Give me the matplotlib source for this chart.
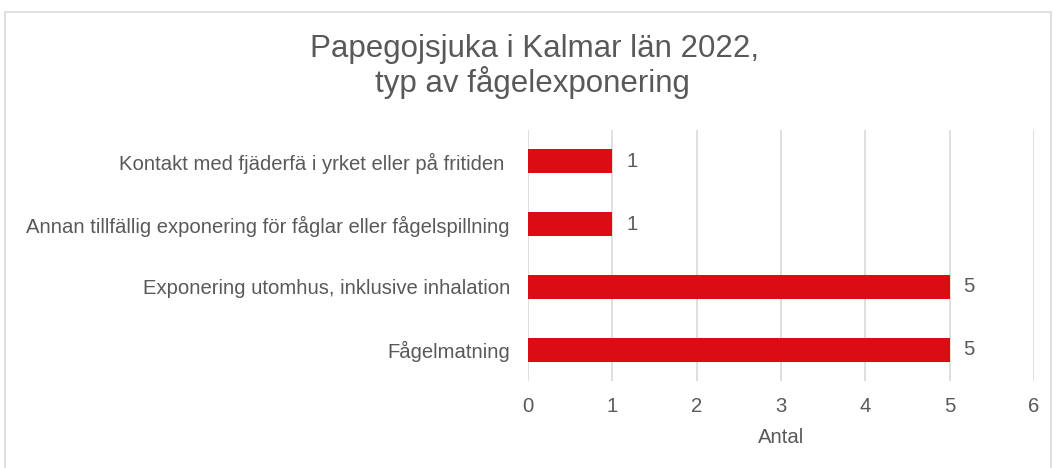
import matplotlib
matplotlib.use("Agg")
import matplotlib.pyplot as plt
from matplotlib.patches import Rectangle

plt.rcParams['font.family'] = ['Liberation Sans', 'DejaVu Sans']

categories = [
    "Kontakt med fjäderfä i yrket eller på fritiden ",
    "Annan tillfällig exponering för fåglar eller fågelspillning",
    "Exponering utomhus, inklusive inhalation",
    "Fågelmatning",
]
values = [1, 1, 5, 5]
xticks = [0, 1, 2, 3, 4, 5, 6]
title_lines = ["Papegojsjuka i Kalmar län 2022,", "typ av fågelexponering"]
xlabel = "Antal"

W, H = 1054, 468
fig = plt.figure(figsize=(W / 100, H / 100), dpi=100)
fig.patch.set_facecolor("white")

# outer border
fig.patches.append(Rectangle((5 / W, -0.05), 1046 / W, 1.05 - 12 / H,
                             transform=fig.transFigure, fill=False,
                             edgecolor="#d9d9d9", linewidth=1.2))

ax = fig.add_axes([528 / W, 1 - 381 / H, (1034 - 528) / W, (381 - 130) / H])
text_color = "#595959"
bar_color = "#dc0c15"
fs = 14.6

ypos = list(range(len(categories)))
ax.barh(ypos, values, height=0.38, color=bar_color, zorder=3)
ax.set_ylim(len(categories) - 0.5, -0.5)
ax.set_xlim(0, 6)
ax.set_xticks(xticks)
ax.set_xticklabels([str(t) for t in xticks])
ax.set_yticks(ypos)
ax.set_yticklabels(categories)

for y, v in zip(ypos, values):
    ax.annotate(str(v), xy=(v, y), xytext=(10, 0), textcoords="offset points",
                va="center", ha="left", fontsize=fs, color=text_color)

ax.grid(axis="x", color="#d9d9d9", linewidth=1.2, zorder=0)
ax.set_axisbelow(True)
for s in ax.spines.values():
    s.set_visible(False)
ax.tick_params(axis="both", length=0, colors=text_color, labelsize=fs)
ax.tick_params(axis="y", pad=13)
ax.tick_params(axis="x", pad=11.5)
ax.set_xlabel(xlabel, color=text_color, fontsize=fs, labelpad=9)

fig.text(534 / W, 1 - 57 / H, title_lines[0], ha="center", va="baseline",
         fontsize=22.5, color=text_color)
fig.text(532 / W, 1 - 92 / H, title_lines[1], ha="center", va="baseline",
         fontsize=22.5, color=text_color)

fig.savefig("out.png", dpi=100, facecolor="white")
